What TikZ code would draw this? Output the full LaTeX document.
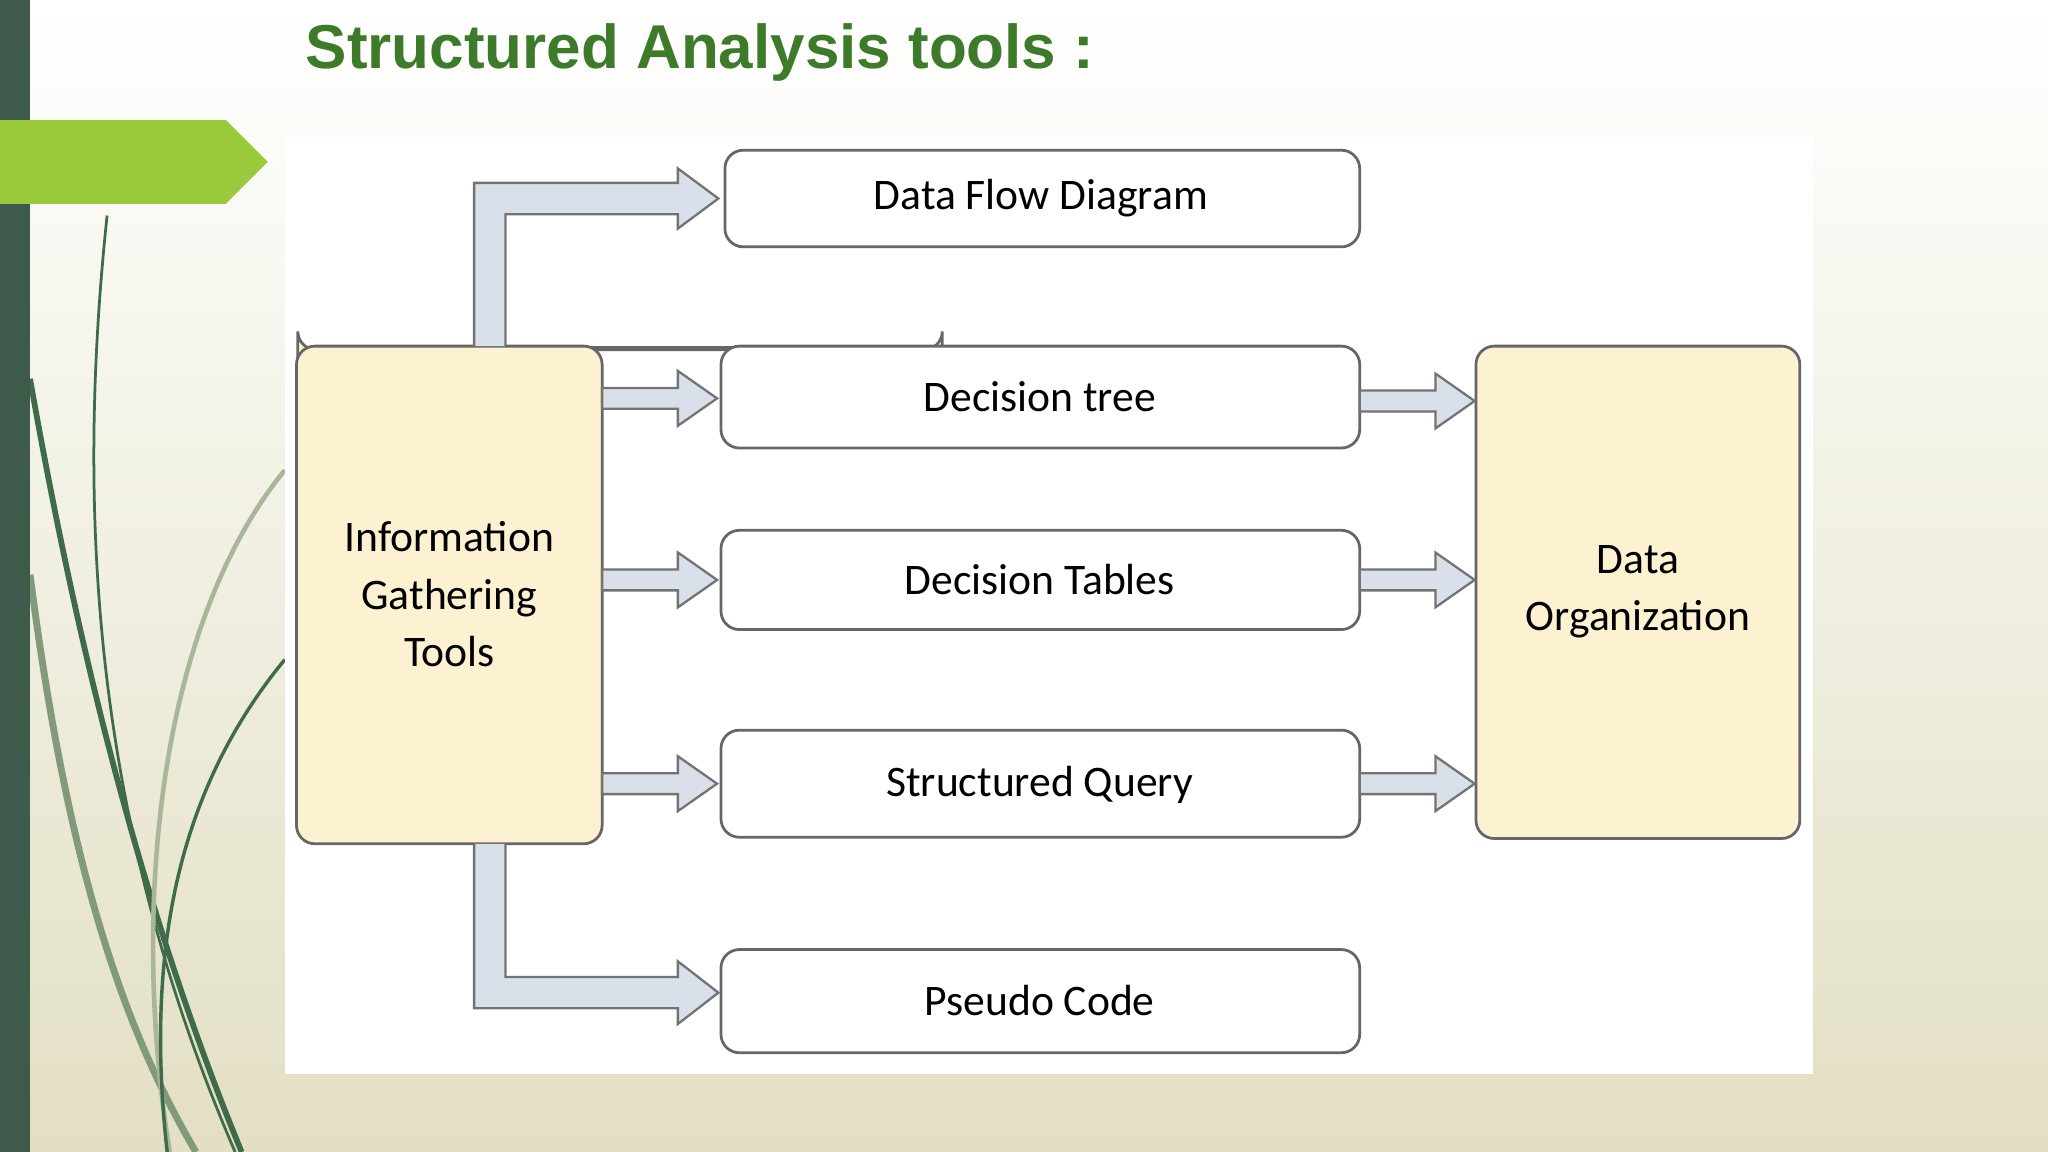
\documentclass[tikz,border=0pt]{standalone}
\usepackage{fontspec}
\setmainfont{Carlito}
\newfontfamily\titlefont{Liberation Sans}
\begin{document}
\begin{tikzpicture}[x=0.02cm,y=-0.02cm,
  box/.style={draw=black!60,line width=1.2pt,rounded corners=8pt,fill=white,font=\fontsize{19}{23}\selectfont},
  ybox/.style={box,fill=boxy,align=center},
  barrow/.style={draw=black!55,line width=1pt,fill=arrfill,line join=miter}]
\definecolor{boxy}{HTML}{FCF1D0}
\definecolor{arrfill}{HTML}{D9E0EA}
\definecolor{bgb}{HTML}{E2DFC3}
\definecolor{darkbar}{HTML}{3D5A4B}
\definecolor{lime}{HTML}{9ACA3C}
\definecolor{titlegreen}{HTML}{3D7A2A}
\definecolor{vine}{HTML}{3F6B4A}
\useasboundingbox (0,0) rectangle (1568,882);
\shade[top color=white,bottom color=bgb] (0,0) rectangle (1568,882);
% decorative vines
\draw[vine,line width=1.2pt] (82,165) .. controls (55,420) and (80,650) .. (180,882);
\draw[vine,line width=2.5pt] (23,290) .. controls (60,500) and (110,700) .. (185,882);
\draw[vine!60!bgb,line width=3pt] (23,440) .. controls (50,650) and (90,780) .. (150,882);
\draw[vine!35!bgb,line width=2pt] (218,360) .. controls (120,480) and (100,700) .. (130,882);
\draw[vine,line width=1.5pt] (218,505) .. controls (140,600) and (110,720) .. (128,882);
\fill[darkbar] (0,0) rectangle (23,882);
\fill[lime] (0,92) -- (173,92) -- (205,124) -- (173,156) -- (0,156) -- cycle;
\node[anchor=west,font=\titlefont\bfseries\fontsize{27}{32}\selectfont,text=titlegreen] (title) at (228,40) {Structured Analysis tools :};
\fill[white] (218,105) rectangle (1388,822);
% boxes
\node[ybox,minimum width=234\pgflinewidth,anchor=north west,inner sep=0] (info) at (227,265) {};
\draw[ybox] (227,265) rectangle (461,646);
\node[font=\fontsize{19}{23}\selectfont,align=center] (infot) at (344,455) {Information\\[2pt]Gathering\\[2pt]Tools};
\draw[ybox] (1130,265) rectangle (1378,642);
\node[font=\fontsize{19}{23}\selectfont,align=center] (orgt) at (1254,453) {Data\\[2pt]Organization};
\draw[box] (555,115) rectangle (1041,189);
\node[font=\fontsize{19}{23}\selectfont] (dfd) at (797,152) {Data Flow Diagram};
\draw[box] (552,265) rectangle (1041,343);
\node[font=\fontsize{19}{23}\selectfont] (dt) at (796,304) {Decision tree};
\draw[box] (552,406) rectangle (1041,482);
\node[font=\fontsize{19}{23}\selectfont] (dtab) at (796,444) {Decision Tables};
\draw[box] (552,559) rectangle (1041,641);
\node[font=\fontsize{19}{23}\selectfont] (sq) at (796,601) {Structured Query};
\draw[box] (552,727) rectangle (1041,806);
\node[font=\fontsize{19}{23}\selectfont] (pc) at (796,766) {Pseudo Code};
% block arrows
\newcommand{\harr}[3]{\draw[barrow] (#1,#3-8) -- (#2-30,#3-8) -- (#2-30,#3-21) -- (#2,#3) -- (#2-30,#3+21) -- (#2-30,#3+8) -- (#1,#3+8) -- cycle;}
\harr{461}{549}{305}
\harr{461}{549}{444}
\harr{461}{549}{600}
\harr{1041}{1129}{307}
\harr{1041}{1129}{444}
\harr{1041}{1129}{600}
\draw[barrow] (363,265) -- (363,140) -- (519,140) -- (519,129) -- (550,152) -- (519,175) -- (519,164) -- (387,164) -- (387,265);
\draw[barrow] (363,646) -- (363,772) -- (519,772) -- (519,784) -- (550,760) -- (519,736) -- (519,748) -- (387,748) -- (387,646);
\end{tikzpicture}
\end{document}
